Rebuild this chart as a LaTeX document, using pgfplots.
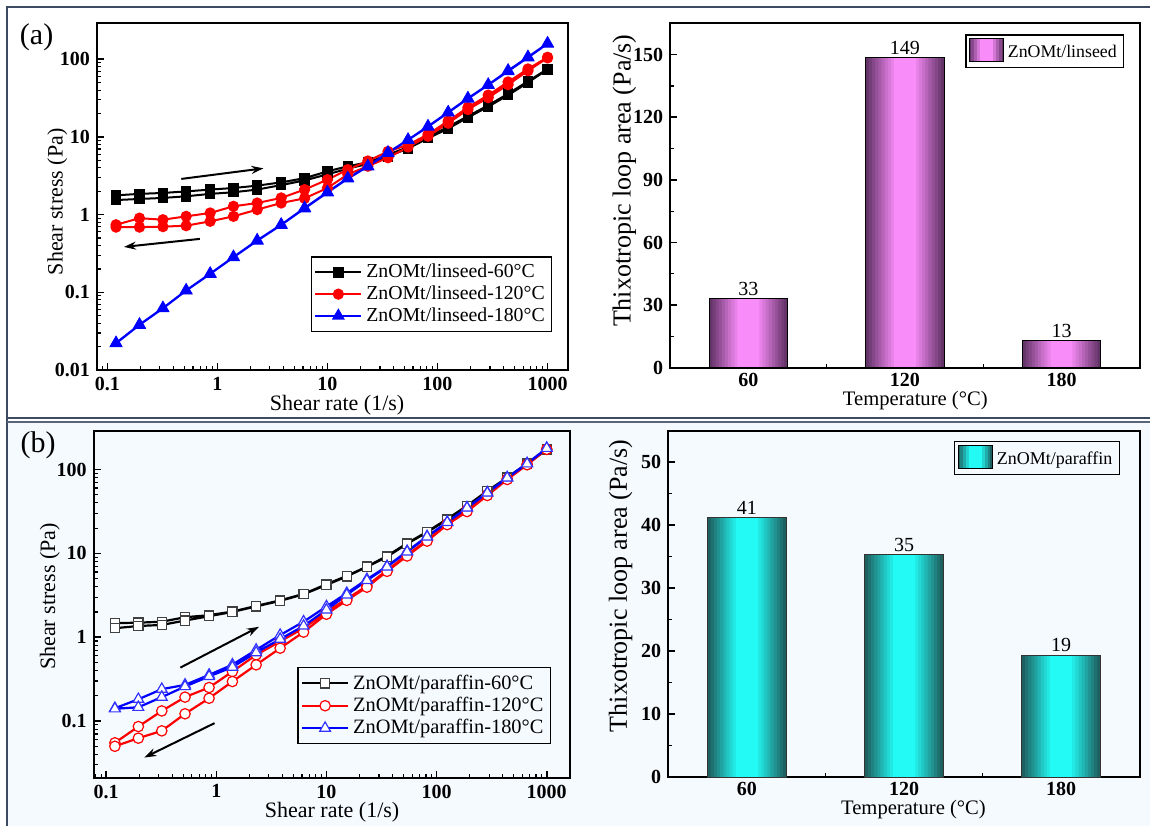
\documentclass[border=0pt]{standalone}
\usepackage{fontspec}
\setmainfont{Liberation Serif}
\usepackage{pgfplots}
\usepackage{pgfplotstable}
\pgfplotsset{compat=1.18}
\usetikzlibrary{arrows.meta}
\definecolor{frameblue}{RGB}{60,75,98}
\definecolor{bgblue}{RGB}{245,250,255}
\definecolor{purpdark}{RGB}{100,52,105}
\definecolor{purplight}{RGB}{248,140,248}
\definecolor{tealdark}{RGB}{30,95,95}
\definecolor{cyanlight}{RGB}{35,250,245}

\pgfplotstableread{
x y lab
0 33 33
1 148.7 149
2 13.2 13
}\linseedtab
\pgfplotstableread{
x y lab
0 41.2 41
1 35.4 35
2 19.4 19
}\paraffintab

\pgfplotsset{
  myaxis/.style={
    scale only axis, anchor=south west,
    axis line style={line width=1pt},
    tick align=inside, xtick pos=bottom, ytick pos=left,
    major tick length=3.5pt, minor tick length=2pt,
    every major tick/.append style={line width=0.8pt, black},
    every minor tick/.append style={line width=0.6pt, black},
    tick label style={font=\fontsize{10}{11}\selectfont\bfseries,
      /pgf/number format/assume math mode=true, /pgf/number format/1000 sep={}},
    legend cell align=left,
  },
  logaxis/.style={
    myaxis,
    xlabel={Shear rate (1/s)}, ylabel={Shear stress (Pa)},
    label style={font=\fontsize{11}{12}\selectfont},
    legend image code/.code={\draw[mark repeat=2,mark phase=2,##1] plot coordinates {(0pt,0pt) (11.5pt,0pt) (23pt,0pt)};},
  },
  barax/.style={
    myaxis, xmin=-0.5, xmax=2.5, xtick={0,1,2}, xticklabels={60,120,180},
    minor xtick={0.5,1.5},
    xticklabel style={inner sep=1pt, yshift=-1.3pt},
    xlabel={Temperature (°C)}, ylabel={Thixotropic loop area (Pa/s)},
    xlabel style={font=\fontsize{10.3}{12}\selectfont, inner sep=0.3pt},
    ylabel style={font=\fontsize{13}{14}\selectfont},
  },
  lay/.style 2 args={ybar, bar width=#1, bar shift=0pt, draw=none, fill=#2, forget plot},
  shadedleg/.style 2 args={legend image code/.code={
    \fill[#1] (0pt,-0.45em) rectangle (17pt,0.72em);
    \fill[#2!25!#1] (1.2pt,-0.45em) rectangle (15.8pt,0.72em);
    \fill[#2!50!#1] (2.6pt,-0.45em) rectangle (14.4pt,0.72em);
    \fill[#2!75!#1] (4pt,-0.45em) rectangle (13pt,0.72em);
    \fill[#2] (5.5pt,-0.45em) rectangle (11.5pt,0.72em);
    \draw[black, line width=0.5pt] (0pt,-0.45em) rectangle (17pt,0.72em);}},
}

\begin{document}
\begin{tikzpicture}
\path[use as bounding box] (0,0) rectangle (575pt,413pt);
\fill[white] (0,0) rectangle (575pt,413pt);
\fill[bgblue] (3.65pt,0) rectangle (575pt,202.1pt);
\draw[frameblue, line width=1pt] (3.65pt,0) -- (3.65pt,409.35pt) -- (575pt,409.35pt);
\draw[frameblue, line width=1pt] (3.65pt,203.85pt) -- (575pt,203.85pt);
\draw[frameblue!85, line width=0.8pt] (3.65pt,202.1pt) -- (575pt,202.1pt);
\node[font=\fontsize{15}{16}\selectfont] at (18.3pt,394.5pt) {(a)};
\node[font=\fontsize{15}{16}\selectfont] at (19pt,190.3pt) {(b)};

% ---------- (a) left ----------
\begin{axis}[logaxis, xmode=log, ymode=log, log ticks with fixed point,
  at={(48.45pt,228pt)}, width=235.5pt, height=173.35pt,
  xmin=0.0804, xmax=1531, ymin=0.01, ymax=290,
  xlabel style={at={(axis description cs:0.51,-0.101)}, anchor=center},
  ylabel style={at={(axis description cs:-0.084,0.485)}, anchor=center},
  legend style={at={(0.967,0.110)}, anchor=south east, draw=black, line width=0.6pt,
    fill=white, font=\fontsize{9.9}{11}\selectfont, inner sep=1.5pt, row sep=-1.5pt},
]
\addplot[black, line width=1pt, mark=square*, mark size=2.1pt] coordinates {
(0.12,1.77)(0.196,1.85)(0.32,1.90)(0.52,1.99)(0.86,2.10)(1.4,2.20)(2.3,2.36)(3.8,2.60)(6.2,2.95)(10,3.6)(15.3,4.2)(23.3,4.7)(35.5,5.9)(54,7.4)(82,10.0)(125,13.5)(189,18.5)(289,25.5)(438,36)(664,52)(1000,75)
(1000,74)(664,50)(438,34.5)(289,24.5)(189,17.8)(125,12.8)(82,9.6)(54,7.1)(35.5,5.6)(23.3,4.5)(15.3,3.9)(10,3.3)(6.2,2.75)(3.8,2.40)(2.3,2.10)(1.4,1.94)(0.86,1.85)(0.52,1.72)(0.32,1.64)(0.196,1.59)(0.12,1.54)};
\addlegendentry{ZnOMt/linseed-60°C}
\addplot[red, line width=1pt, mark=*, mark size=2.3pt] coordinates {
(0.12,0.74)(0.196,0.90)(0.32,0.86)(0.52,0.95)(0.86,1.05)(1.4,1.28)(2.3,1.41)(3.8,1.64)(6.2,2.10)(10,2.82)(15.3,3.8)(23.3,4.9)(35.5,6.5)(54,7.9)(82,10.8)(125,16.0)(189,24)(289,34.5)(438,51)(664,75)(1000,106)
(1000,104)(664,71)(438,47)(289,32)(189,22.5)(125,15.0)(82,10.2)(54,7.4)(35.5,5.4)(23.3,4.2)(15.3,3.3)(10,2.2)(6.2,1.62)(3.8,1.41)(2.3,1.16)(1.4,0.95)(0.86,0.82)(0.52,0.72)(0.32,0.70)(0.196,0.69)(0.12,0.69)};
\addlegendentry{ZnOMt/linseed-120°C}
\addplot[blue, line width=1pt, mark=triangle*, mark size=2.8pt] coordinates {
(0.12,0.0223)(0.196,0.0384)(0.32,0.0628)(0.52,0.106)(0.86,0.174)(1.4,0.285)(2.3,0.467)(3.8,0.743)(6.2,1.22)(10,1.95)(15.3,2.95)(23.3,4.2)(35.5,6.3)(54,9.2)(82,13.7)(125,20.8)(189,31.5)(289,47)(438,71.5)(664,107)(1000,160)
(1000,158)(664,105)(438,70)(289,46.5)(189,31)(125,20.5)(82,13.5)(54,9.1)(35.5,6.2)(23.3,4.15)(15.3,2.9)(10,1.92)(6.2,1.2)(3.8,0.735)(2.3,0.46)(1.4,0.282)(0.86,0.172)(0.52,0.105)(0.32,0.062)(0.196,0.038)(0.12,0.022)};
\addlegendentry{ZnOMt/linseed-180°C}
\draw[black, line width=1pt, -{Stealth[length=6pt,width=4pt]}] (axis cs:0.47,2.88) -- (axis cs:2.62,3.94);
\draw[black, line width=1pt, -{Stealth[length=6pt,width=4pt]}] (axis cs:0.693,0.487) -- (axis cs:0.1416,0.384);
\end{axis}

% ---------- (a) right ----------
\begin{axis}[barax, at={(335.05pt,229.15pt)}, width=234.85pt, height=172.2pt,
  ymin=0, ymax=165, ytick={0,30,...,150}, minor ytick={15,45,...,135},
  xlabel style={at={(axis description cs:0.522,-0.094)}, anchor=center},
  ylabel style={at={(axis description cs:-0.0975,0.543)}, anchor=center},
  legend style={at={(0.967,0.968)}, anchor=north east, draw=black, line width=0.6pt,
    fill=white, font=\fontsize{8.9}{10}\selectfont, inner sep=1.5pt},
  shadedleg={purpdark}{purplight},
]
\addplot[lay={0.50}{purpdark}] table[x=x,y=y]{\linseedtab};
\addplot[lay={0.46}{purplight!11!purpdark}] table[x=x,y=y]{\linseedtab};
\addplot[lay={0.42}{purplight!22!purpdark}] table[x=x,y=y]{\linseedtab};
\addplot[lay={0.38}{purplight!33!purpdark}] table[x=x,y=y]{\linseedtab};
\addplot[lay={0.34}{purplight!44!purpdark}] table[x=x,y=y]{\linseedtab};
\addplot[lay={0.30}{purplight!56!purpdark}] table[x=x,y=y]{\linseedtab};
\addplot[lay={0.26}{purplight!67!purpdark}] table[x=x,y=y]{\linseedtab};
\addplot[lay={0.22}{purplight!78!purpdark}] table[x=x,y=y]{\linseedtab};
\addplot[lay={0.18}{purplight!89!purpdark}] table[x=x,y=y]{\linseedtab};
\addplot[lay={0.14}{purplight}] table[x=x,y=y]{\linseedtab};
\addplot[ybar, bar width=0.5, bar shift=0pt, fill=none, draw=black, line width=0.5pt,
  nodes near coords, point meta=explicit symbolic,
  every node near coord/.append style={font=\fontsize{10}{11}\selectfont, inner sep=1.2pt, black}]
  table[x=x,y=y,meta=lab]{\linseedtab};
\addlegendentry{ZnOMt/linseed}
\end{axis}

% ---------- (b) left ----------
\begin{axis}[logaxis, xmode=log, ymode=log, log ticks with fixed point,
  at={(46.8pt,24.15pt)}, width=238pt, height=173.5pt,
  xmin=0.0769, xmax=1614, ymin=0.0211, ymax=290,
  xlabel style={at={(axis description cs:0.501,-0.098)}, anchor=center},
  ylabel style={at={(axis description cs:-0.0918,0.522)}, anchor=center},
  legend style={at={(0.961,0.096)}, anchor=south east, draw=black, line width=0.6pt,
    fill=none, font=\fontsize{10.2}{11}\selectfont, inner sep=1.5pt, row sep=-1.5pt},
]
\addplot[black, line width=1.1pt, mark=square*, mark size=2.3pt, mark options={fill=white, draw=black!75, line width=0.6pt}] coordinates {
(0.12,1.47)(0.196,1.49)(0.32,1.53)(0.52,1.73)(0.86,1.83)(1.4,2.02)(2.3,2.36)(3.8,2.75)(6.2,3.28)(10,4.28)(15.3,5.38)(23.3,6.95)(35.5,9.3)(54,13.2)(82,18.1)(125,25.7)(189,37)(289,55.5)(438,80)(664,118)(1000,174)
(1000,174)(664,116)(438,79)(289,55)(189,36.5)(125,25.3)(82,17.8)(54,13.0)(35.5,9.1)(23.3,6.9)(15.3,5.3)(10,4.2)(6.2,3.25)(3.8,2.71)(2.3,2.33)(1.4,2.0)(0.86,1.78)(0.52,1.58)(0.32,1.40)(0.196,1.36)(0.12,1.28)};
\addlegendentry{ZnOMt/paraffin-60°C}
\addplot[red, line width=1.1pt, mark=*, mark size=2.6pt, mark options={fill=white, draw=red, line width=0.6pt}] coordinates {
(0.12,0.055)(0.196,0.086)(0.32,0.132)(0.52,0.193)(0.86,0.251)(1.4,0.389)(2.3,0.615)(3.8,0.89)(6.2,1.28)(10,2.02)(15.3,2.85)(23.3,4.1)(35.5,6.3)(54,9.6)(82,14.3)(125,22.5)(189,33)(289,50)(438,77)(664,115)(1000,174)
(1000,174)(664,114)(438,76)(289,49)(189,31.5)(125,22)(82,14.0)(54,9.3)(35.5,6.1)(23.3,3.95)(15.3,2.75)(10,1.88)(6.2,1.15)(3.8,0.74)(2.3,0.468)(1.4,0.296)(0.86,0.187)(0.52,0.122)(0.32,0.0764)(0.196,0.0625)(0.12,0.050)};
\addlegendentry{ZnOMt/paraffin-120°C}
\addplot[blue, line width=1.1pt, mark=triangle*, mark size=3.1pt, mark options={fill=white, draw=blue!80, line width=0.6pt}] coordinates {
(0.12,0.142)(0.196,0.182)(0.32,0.24)(0.52,0.27)(0.86,0.355)(1.4,0.47)(2.3,0.706)(3.8,1.06)(6.2,1.53)(10,2.32)(15.3,3.35)(23.3,4.9)(35.5,7.0)(54,10.6)(82,15.9)(125,23.6)(189,35)(289,53)(438,80)(664,118)(1000,179)
(1000,179)(664,117)(438,79.5)(289,52.5)(189,34.8)(125,23.4)(82,15.7)(54,10.4)(35.5,6.9)(23.3,4.75)(15.3,3.2)(10,2.12)(6.2,1.36)(3.8,0.95)(2.3,0.655)(1.4,0.44)(0.86,0.34)(0.52,0.258)(0.32,0.193)(0.196,0.146)(0.12,0.14)};
\addlegendentry{ZnOMt/paraffin-180°C}
\draw[black, line width=1pt, -{Stealth[length=6pt,width=4pt]}] (axis cs:0.472,0.434) -- (axis cs:2.44,1.33);
\draw[black, line width=1pt, -{Stealth[length=6pt,width=4pt]}] (axis cs:0.964,0.0944) -- (axis cs:0.222,0.0367);
\end{axis}

% ---------- (b) right ----------
\begin{axis}[barax, at={(334.15pt,24.35pt)}, width=235.75pt, height=173.3pt,
  ymin=0, ymax=55, ytick={0,10,...,50}, minor ytick={5,15,...,45},
  xlabel style={at={(axis description cs:0.52,-0.094)}, anchor=center},
  ylabel style={at={(axis description cs:-0.101,0.5525)}, anchor=center},
  legend style={at={(0.958,0.970)}, anchor=north east, draw=black, line width=0.6pt,
    fill=none, font=\fontsize{9}{10}\selectfont, inner sep=1.5pt},
  shadedleg={tealdark}{cyanlight},
]
\addplot[lay={0.50}{tealdark}] table[x=x,y=y]{\paraffintab};
\addplot[lay={0.46}{cyanlight!11!tealdark}] table[x=x,y=y]{\paraffintab};
\addplot[lay={0.42}{cyanlight!22!tealdark}] table[x=x,y=y]{\paraffintab};
\addplot[lay={0.38}{cyanlight!33!tealdark}] table[x=x,y=y]{\paraffintab};
\addplot[lay={0.34}{cyanlight!44!tealdark}] table[x=x,y=y]{\paraffintab};
\addplot[lay={0.30}{cyanlight!56!tealdark}] table[x=x,y=y]{\paraffintab};
\addplot[lay={0.26}{cyanlight!67!tealdark}] table[x=x,y=y]{\paraffintab};
\addplot[lay={0.22}{cyanlight!78!tealdark}] table[x=x,y=y]{\paraffintab};
\addplot[lay={0.18}{cyanlight!89!tealdark}] table[x=x,y=y]{\paraffintab};
\addplot[lay={0.14}{cyanlight}] table[x=x,y=y]{\paraffintab};
\addplot[ybar, bar width=0.5, bar shift=0pt, fill=none, draw=black!80, line width=0.5pt,
  nodes near coords, point meta=explicit symbolic,
  every node near coord/.append style={font=\fontsize{10}{11}\selectfont, inner sep=1.2pt, black}]
  table[x=x,y=y,meta=lab]{\paraffintab};
\addlegendentry{ZnOMt/paraffin}
\end{axis}
\end{tikzpicture}
\end{document}
